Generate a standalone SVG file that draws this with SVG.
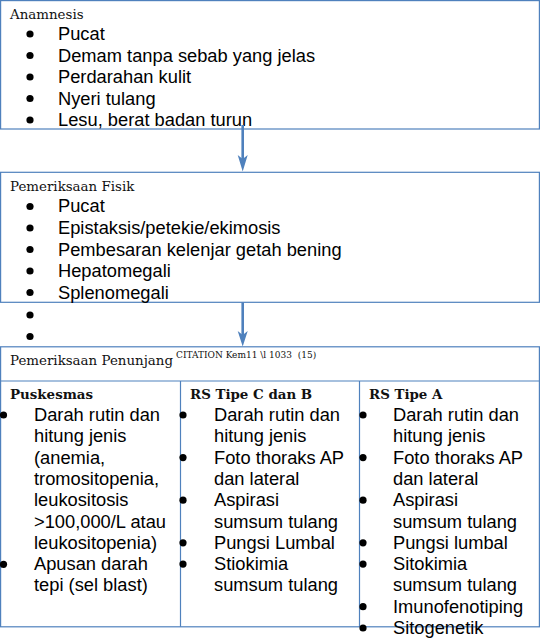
<svg xmlns="http://www.w3.org/2000/svg" width="540" height="640" viewBox="0 0 540 640">
<style>
.box{fill:#fff;stroke:#4f81bd;stroke-width:1.2}
.ln{stroke:#4f81bd;stroke-width:1.2;fill:none}
.hd{font-family:"DejaVu Serif","Liberation Serif",serif;font-size:13.4px;fill:#111}
.bh{font-family:"DejaVu Serif","Liberation Serif",serif;font-size:13.4px;font-weight:bold;fill:#111}
.sup{font-family:"DejaVu Serif","Liberation Serif",serif;font-size:9px;fill:#111;white-space:pre}
.t{font-family:"Liberation Sans",Arial,sans-serif;font-size:18.3px;fill:#000}
.b{fill:#000}
.arr{stroke:#4f81bd;stroke-width:2.6;fill:none}
.ah{fill:#4f81bd}
</style>
<g id="anamnesis">
<rect class="box" x="0.6" y="0.6" width="538.8" height="128.4"/>
<text class="hd" x="10" y="19">Anamnesis</text>
<g class="b"><circle cx="30" cy="34" r="3.6"/><circle cx="30" cy="55.5" r="3.6"/><circle cx="30" cy="77" r="3.6"/><circle cx="30" cy="98.5" r="3.6"/><circle cx="30" cy="120" r="3.6"/></g>
<text class="t" x="58" y="40">Pucat</text>
<text class="t" x="58" y="61.5">Demam tanpa sebab yang jelas</text>
<text class="t" x="58" y="83">Perdarahan kulit</text>
<text class="t" x="58" y="104.5">Nyeri tulang</text>
<text class="t" x="58" y="126">Lesu, berat badan turun</text>
</g>
<g id="fisik">
<rect class="box" x="0.6" y="172.3" width="538.8" height="130"/>
<text class="hd" x="10" y="191">Pemeriksaan Fisik</text>
<g class="b"><circle cx="30" cy="206.5" r="3.6"/><circle cx="30" cy="228" r="3.6"/><circle cx="30" cy="249.5" r="3.6"/><circle cx="30" cy="271" r="3.6"/><circle cx="30" cy="292.5" r="3.6"/><circle cx="30" cy="315" r="3.6"/><circle cx="30" cy="336.5" r="3.6"/></g>
<text class="t" x="58" y="212.3">Pucat</text>
<text class="t" x="58" y="234">Epistaksis/petekie/ekimosis</text>
<text class="t" x="58" y="255.5">Pembesaran kelenjar getah bening</text>
<text class="t" x="58" y="277">Hepatomegali</text>
<text class="t" x="58" y="298.5">Splenomegali</text>
</g>
<g id="penunjang">
<rect class="box" x="0.6" y="346.8" width="538.8" height="280"/>
<line class="ln" x1="0.6" y1="381" x2="539.4" y2="381"/>
<line class="ln" x1="180.5" y1="381" x2="180.5" y2="626.8"/>
<line class="ln" x1="359.5" y1="381" x2="359.5" y2="626.8"/>
<text class="hd" x="10" y="365">Pemeriksaan Penunjang</text>
<text class="sup" x="176" y="358">CITATION Kem11 \l 1033  (15)</text>
</g>
<g id="puskesmas">
<text class="bh" x="10" y="398.5">Puskesmas</text>
<g class="b"><circle cx="3.5" cy="415" r="3.6"/><circle cx="3.5" cy="564.3" r="3.6"/></g>
<text class="t" x="34" y="421">Darah rutin dan</text>
<text class="t" x="34" y="442.3">hitung jenis</text>
<text class="t" x="34" y="463.6">(anemia,</text>
<text class="t" x="34" y="484.9">tromositopenia,</text>
<text class="t" x="34" y="506.2">leukositosis</text>
<text class="t" x="34" y="527.5">&gt;100,000/L atau</text>
<text class="t" x="34" y="548.8">leukositopenia)</text>
<text class="t" x="34" y="570.1">Apusan darah</text>
<text class="t" x="34" y="591.4">tepi (sel blast)</text>
</g>
<g id="rs-tipe-c-b">
<text class="bh" x="190" y="398.5">RS Tipe C dan B</text>
<g class="b"><circle cx="183" cy="415" r="3.6"/><circle cx="183" cy="457.6" r="3.6"/><circle cx="183" cy="500.2" r="3.6"/><circle cx="183" cy="542.8" r="3.6"/><circle cx="183" cy="564.1" r="3.6"/></g>
<text class="t" x="214" y="421">Darah rutin dan</text>
<text class="t" x="214" y="442.3">hitung jenis</text>
<text class="t" x="214" y="463.6">Foto thoraks AP</text>
<text class="t" x="214" y="484.9">dan lateral</text>
<text class="t" x="214" y="506.2">Aspirasi</text>
<text class="t" x="214" y="527.5">sumsum tulang</text>
<text class="t" x="214" y="548.8">Pungsi Lumbal</text>
<text class="t" x="214" y="570.1">Stiokimia</text>
<text class="t" x="214" y="591.4">sumsum tulang</text>
</g>
<g id="rs-tipe-a">
<text class="bh" x="369" y="398.5">RS Tipe A</text>
<g class="b"><circle cx="363" cy="415" r="3.6"/><circle cx="363" cy="457.6" r="3.6"/><circle cx="363" cy="500.2" r="3.6"/><circle cx="363" cy="542.8" r="3.6"/><circle cx="363" cy="564.1" r="3.6"/><circle cx="363" cy="606.7" r="3.6"/><circle cx="363" cy="628" r="3.6"/></g>
<text class="t" x="393" y="421">Darah rutin dan</text>
<text class="t" x="393" y="442.3">hitung jenis</text>
<text class="t" x="393" y="463.6">Foto thoraks AP</text>
<text class="t" x="393" y="484.9">dan lateral</text>
<text class="t" x="393" y="506.2">Aspirasi</text>
<text class="t" x="393" y="527.5">sumsum tulang</text>
<text class="t" x="393" y="548.8">Pungsi lumbal</text>
<text class="t" x="393" y="570.1">Sitokimia</text>
<text class="t" x="393" y="591.4">sumsum tulang</text>
<text class="t" x="393" y="612.7">Imunofenotiping</text>
<text class="t" x="393" y="634">Sitogenetik</text>
</g>
<g id="connectors">
<line class="arr" x1="242.7" y1="125" x2="242.7" y2="160"/>
<polygon class="ah" points="237.7,155 242.7,171.5 247.7,155 242.7,159"/>
<line class="arr" x1="242.7" y1="302.3" x2="242.7" y2="336"/>
<polygon class="ah" points="237.7,331 242.7,346.5 247.7,331 242.7,335"/>
</g>
</svg>
